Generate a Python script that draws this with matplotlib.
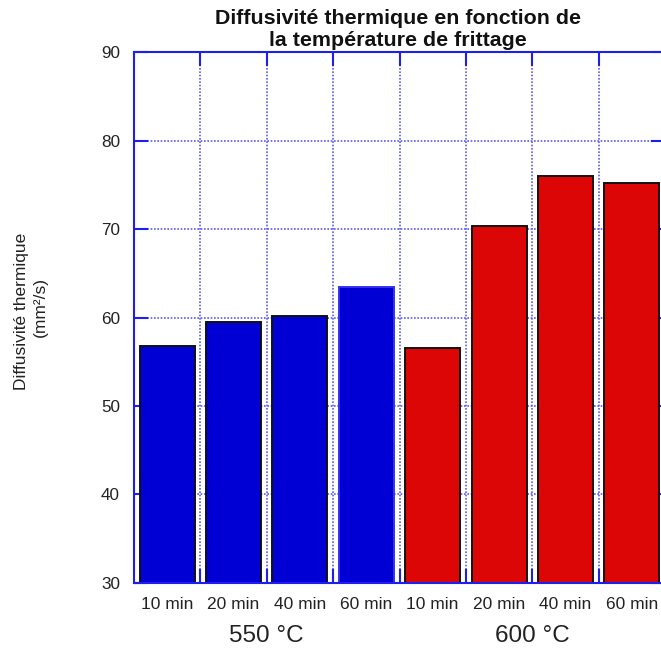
import matplotlib
matplotlib.use("Agg")
import matplotlib.pyplot as plt
import matplotlib.transforms as mtransforms
import numpy as np

plt.rcParams['font.family'] = ['Liberation Sans', 'DejaVu Sans']

# Data
durations = ["10 min", "20 min", "40 min", "60 min", "10 min", "20 min", "40 min", "60 min"]
groups = ["550 °C", "600 °C"]
values_550 = [56.8, 59.5, 60.2, 63.4]
values_600 = [56.5, 70.3, 76.0, 75.2]
title = "Diffusivité thermique en fonction de\nla température de frittage"
ylabel_line1 = "Diffusivité thermique"
ylabel_line2 = "(mm²/s)"
y_ticks = [30, 40, 50, 60, 70, 80, 90]

values = values_550 + values_600
colors = ['#0000D4'] * len(values_550) + ['#DC0606'] * len(values_600)
edges = ['#111111', '#111111', '#111111', '#3333EE', '#111111', '#111111', '#111111', '#111111']

W, H = 661, 651
fig = plt.figure(figsize=(W / 100, H / 100), dpi=100)
left, right, top, bottom = 134, 665, 52.3, 582.7
ax = fig.add_axes([left / W, 1 - bottom / H, (right - left) / W, (bottom - top) / H])

x = np.arange(len(values))
ax.bar(x, values, width=0.83, bottom=0, color=colors, edgecolor=edges, linewidth=1.4, zorder=3)

ax.set_xlim(-0.5, len(values) - 0.5)
ax.set_ylim(30, 90)

spine_col = '#1E1EEE'
for s in ax.spines.values():
    s.set_color(spine_col)
    s.set_linewidth(1.5)
    s.set_zorder(4)

ax.set_yticks(y_ticks)
ax.set_yticklabels([str(v) for v in y_ticks])
ax.set_xticks(x)
ax.set_xticklabels(durations)
ax.set_xticks(np.arange(0.5, len(values) - 1, 1.0), minor=True)

ax.tick_params(axis='y', which='major', direction='in', length=10, width=1.5,
               color=spine_col, left=True, right=True, labelsize=12.3,
               labelcolor='#222222', pad=10)
ax.tick_params(axis='x', which='major', length=0, labelsize=12.5,
               labelcolor='#222222', pad=10)
ax.tick_params(axis='x', which='minor', direction='in', length=10, width=1.5,
               color=spine_col, top=True, bottom=True)

ax.grid(True, which='major', axis='y', linestyle=(0, (1, 1)), color='#5A5AF5', linewidth=1.2, zorder=1)
ax.grid(True, which='minor', axis='x', linestyle=(0, (1, 1)), color='#5A5AF5', linewidth=1.2, zorder=1)
ax.set_axisbelow(True)

# Group labels
trans = mtransforms.blended_transform_factory(ax.transData, ax.transAxes)
ax.text(1.5, -0.1005, groups[0], transform=trans, ha='center', va='center',
        fontsize=17.5, color='#222222')
ax.text(5.5, -0.1005, groups[1], transform=trans, ha='center', va='center',
        fontsize=17.5, color='#222222')

# Title
fig.text(398 / W, 1 - 18 / H, title.split("\n")[0], ha='center', va='center',
         fontsize=15.4, fontweight='bold', color='#111111')
fig.text(398 / W, 1 - 41 / H, title.split("\n")[1], ha='center', va='center',
         fontsize=15.4, fontweight='bold', color='#111111')

# Y label (two lines)
fig.text(22 / W, 1 - 311 / H, ylabel_line1, rotation=90, ha='center', va='center',
         fontsize=12.5, color='#222222')
fig.text(40 / W, 1 - 307 / H, ylabel_line2, rotation=90, ha='center', va='center',
         fontsize=12.5, color='#222222')

fig.savefig("out.png", dpi=100)
